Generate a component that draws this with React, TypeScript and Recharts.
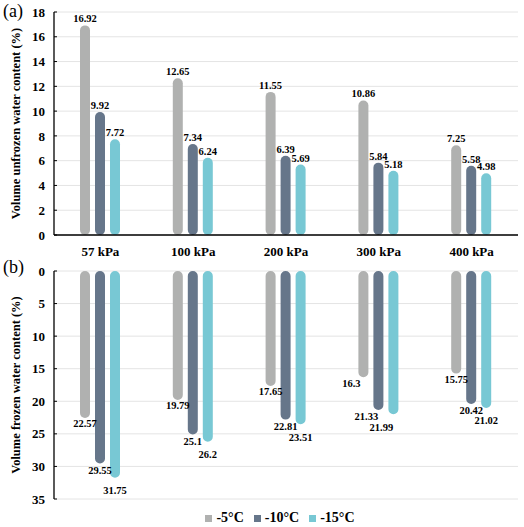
import { BarChart, Bar, XAxis, YAxis, CartesianGrid, Legend, LabelList } from 'recharts';

const categories = ['57 kPa', '100 kPa', '200 kPa', '300 kPa', '400 kPa'];

const unfrozenMinus5 = [16.92, 12.65, 11.55, 10.86, 7.25];
const unfrozenMinus10 = [9.92, 7.34, 6.39, 5.84, 5.58];
const unfrozenMinus15 = [7.72, 6.24, 5.69, 5.18, 4.98];

const frozenMinus5 = [22.57, 19.79, 17.65, 16.3, 15.75];
const frozenMinus10 = [29.55, 25.1, 22.81, 21.33, 20.42];
const frozenMinus15 = [31.75, 26.2, 23.51, 21.99, 21.02];

const unfrozenTicks = [0, 2, 4, 6, 8, 10, 12, 14, 16, 18];
const frozenTicks = [0, 5, 10, 15, 20, 25, 30, 35];

const seriesNames = ['-5°C', '-10°C', '-15°C'];
const colors = ['#B0B1B0', '#66768A', '#78C8D4'];

// hand-placed label nudges in the lower panel (px)
const frozenLabelDy = [7, 8, 14];
const frozenLabelDx = [0, 0, 0, -12, 0];

const unfrozenData = categories.map((name, i) => ({
  name,
  a: unfrozenMinus5[i],
  b: unfrozenMinus10[i],
  c: unfrozenMinus15[i],
}));

const frozenData = categories.map((name, i) => ({
  name,
  a: frozenMinus5[i],
  b: frozenMinus10[i],
  c: frozenMinus15[i],
}));

const font = "'Liberation Serif', 'Times New Roman', serif";
const tickStyle = { fontFamily: font, fontSize: 13, fontWeight: 700, fill: '#000' };
const valueStyle = { fontFamily: font, fontSize: 10.5, fontWeight: 700, fill: '#000' };
const axisTitle = { fontFamily: font, fontSize: 12.5, fontWeight: 700, fill: '#000', textAnchor: 'middle' as const };
const frame = { stroke: '#000', strokeWidth: 1.3 };

const frozenLabel = (series: number) => (props: any) => {
  const x = Number(props.x);
  const y = Number(props.y);
  const w = Number(props.width);
  const h = Number(props.height);
  const end = Math.max(y, y + h);
  return (
    <text
      x={x + w / 2 + frozenLabelDx[props.index]}
      y={end + frozenLabelDy[series]}
      textAnchor="middle"
      dominantBaseline="middle"
      style={valueStyle}
    >
      {props.value}
    </text>
  );
};

export default function App() {
  return (
    <div style={{ position: 'absolute', left: 0, top: 0, width: 524, height: 527, background: '#fff', fontFamily: font }}>
      <div style={{ position: 'absolute', left: 3, top: 1, fontSize: 18 }}>(a)</div>
      <div style={{ position: 'absolute', left: 3, top: 257, fontSize: 18 }}>(b)</div>

      <div style={{ position: 'absolute', left: 0, top: 0 }}>
        <BarChart width={524} height={262} data={unfrozenData} margin={{ top: 12, right: 6, left: 0, bottom: 0 }} barSize={10} barGap={5}>
          <CartesianGrid vertical={false} stroke="#E4E4E4" />
          <XAxis dataKey="name" height={27} tick={tickStyle} tickLine={false} axisLine={frame} tickMargin={6} />
          <XAxis xAxisId="top" orientation="top" dataKey="name" height={0} tick={false} tickLine={false} axisLine={frame} />
          <YAxis
            width={54}
            domain={[0, 18]}
            ticks={unfrozenTicks}
            interval={0}
            tick={tickStyle}
            tickSize={-3}
            tickLine={{ stroke: '#000' }}
            tickMargin={12}
            axisLine={frame}
            label={{ value: 'Volume unfrozen water content (%)', angle: -90, position: 'insideLeft', offset: 16, style: axisTitle }}
          />
          <YAxis yAxisId="right" orientation="right" width={0} tick={false} tickLine={false} axisLine={frame} />
          {['a', 'b', 'c'].map((key, i) => (
            <Bar key={key} dataKey={key} name={seriesNames[i]} fill={colors[i]} radius={5} isAnimationActive={false}>
              <LabelList dataKey={key} position="top" offset={3} style={valueStyle} />
            </Bar>
          ))}
        </BarChart>
      </div>

      <div style={{ position: 'absolute', left: 0, top: 262 }}>
        <BarChart width={524} height={265} data={frozenData} margin={{ top: 9, right: 6, left: 0, bottom: 1 }} barSize={10} barGap={5}>
          <CartesianGrid vertical={false} stroke="#E4E4E4" />
          <XAxis dataKey="name" height={0} tick={false} tickLine={false} axisLine={frame} />
          <XAxis xAxisId="top" orientation="top" dataKey="name" height={0} tick={false} tickLine={false} axisLine={frame} />
          <YAxis
            width={54}
            reversed
            domain={[0, 35]}
            ticks={frozenTicks}
            interval={0}
            tick={tickStyle}
            tickSize={-3}
            tickLine={{ stroke: '#000' }}
            tickMargin={12}
            axisLine={frame}
            label={{ value: 'Volume frozen water content (%)', angle: -90, position: 'insideLeft', offset: 16, style: axisTitle }}
          />
          <YAxis yAxisId="right" orientation="right" width={0} tick={false} tickLine={false} axisLine={frame} />
          <Legend
            verticalAlign="bottom"
            iconType="square"
            iconSize={7}
            itemSorter={(item: any) => seriesNames.indexOf(item.value)}
            wrapperStyle={{ fontFamily: font, fontSize: 14, fontWeight: 700, paddingTop: 11, paddingLeft: 26 }}
            formatter={(value) => <span style={{ color: '#000' }}>{value}</span>}
          />
          {['a', 'b', 'c'].map((key, i) => (
            <Bar key={key} dataKey={key} name={seriesNames[i]} fill={colors[i]} radius={5} isAnimationActive={false}>
              <LabelList dataKey={key} content={frozenLabel(i)} />
            </Bar>
          ))}
        </BarChart>
      </div>
    </div>
  );
}
